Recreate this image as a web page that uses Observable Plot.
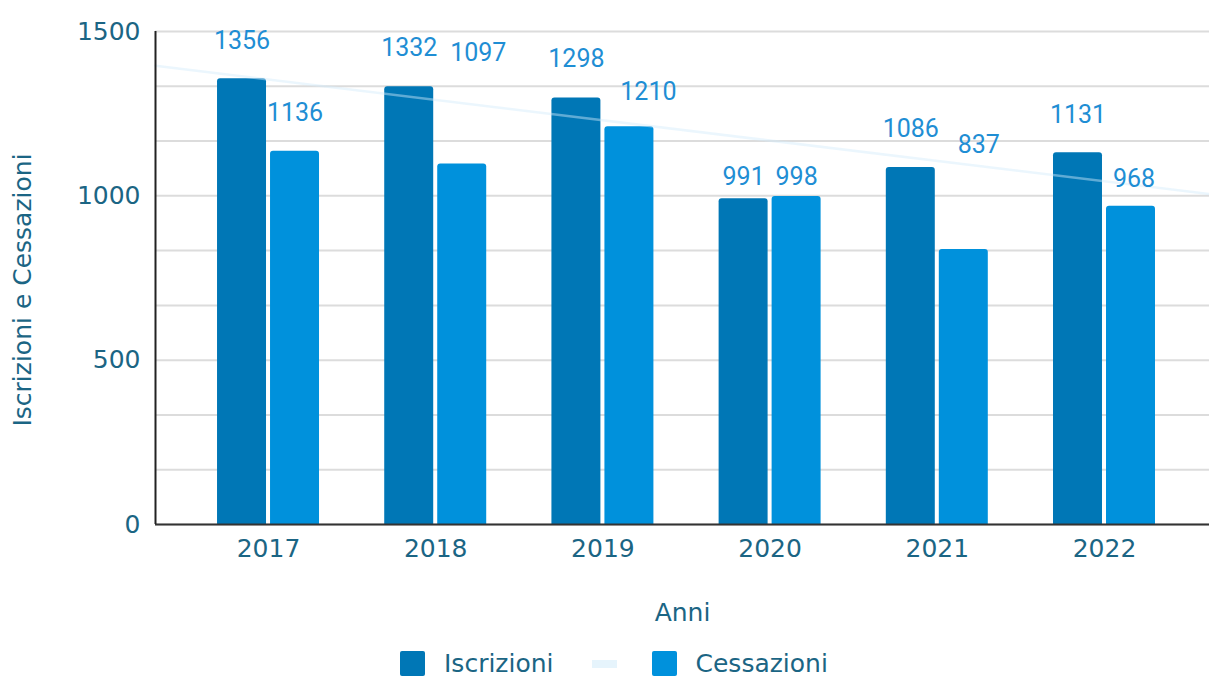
<!DOCTYPE html>
<html>
<head>
<meta charset="utf-8">
<script src="https://cdn.jsdelivr.net/npm/d3@7"></script>
<script src="https://cdn.jsdelivr.net/npm/@observablehq/plot@0.6"></script>
<style>
  html, body { margin: 0; padding: 0; background: #fff; }
  #wrap { position: relative; width: 1209px; height: 677px; overflow: hidden; }
  #legend { position: absolute; left: 400px; top: 651px; display: flex; align-items: center;
            font-family: "DejaVu Sans", sans-serif; font-size: 25px; line-height: 25px; color: #1b6584; white-space: nowrap; }
  .sw { width: 25px; height: 25px; border-radius: 2px; display: inline-block; }
  .ln { width: 25px; height: 8px; background: #e6f4fc; display: inline-block; }
</style>
</head>
<body>
<div id="wrap">
  <div id="chart"></div>
  <div id="legend">
    <span class="sw" style="background:#0077b6"></span>
    <span style="margin-left:19px">Iscrizioni</span>
    <span class="ln" style="margin-left:38px"></span>
    <span class="sw" style="background:#0091dc;margin-left:35px"></span>
    <span style="margin-left:19px">Cessazioni</span>
  </div>
</div>
<script>
// ---- data ----
const years = [2017, 2018, 2019, 2020, 2021, 2022];
const iscrizioni = [1356, 1332, 1298, 991, 1086, 1131];
const cessazioni = [1136, 1097, 1210, 998, 837, 968];
const yTickValues = [0, 500, 1000, 1500];
const seriesNames = ["Iscrizioni", "Cessazioni"];

// ---- layout (label nudges in pixels, relative to bar top) ----
const labelDxIscr = [0, 0, 0, 0, 0, 0];
const labelDyIscr = [-38, -39, -39, -22, -39, -38];
const labelDxCess = [0, 16, 19, 0, 15, 3];
const labelDyCess = [-38, -111, -35, -19, -104, -27];

const colors = { Iscrizioni: "#0077b6", Cessazioni: "#0091dc" };
const xDomain = [2016.324, 2022.628];
const barOff = [0.012, 0.305];

const rows = [];
years.forEach((y, i) => {
  rows.push({ year: y, series: "Iscrizioni", value: iscrizioni[i], dx: labelDxIscr[i], dy: labelDyIscr[i], x1: y - barOff[1], x2: y - barOff[0] });
  rows.push({ year: y, series: "Cessazioni", value: cessazioni[i], dx: labelDxCess[i], dy: labelDyCess[i], x1: y + barOff[0], x2: y + barOff[1] });
});

// linear trend of Iscrizioni across the full frame
const mx = d3.mean(years), my = d3.mean(iscrizioni);
const slope = d3.sum(years, (x, i) => (x - mx) * (iscrizioni[i] - my)) / d3.sum(years, x => (x - mx) ** 2);
const trend = xDomain.map(x => ({ x, y: my + slope * (x - mx) }));

const grid = d3.range(0, 10).map(k => k * 1500 / 9);

const labelMarks = rows.map(d => Plot.text([d], {
  x: r => (r.x1 + r.x2) / 2, y: "value", text: r => String(r.value),
  dx: d.dx, dy: d.dy, fill: "#1f8ed4", fontSize: 25, fontFamily: "Roboto",
  lineAnchor: "middle", textAnchor: "middle"
}));

const chart = Plot.plot({
  width: 1209,
  height: 645,
  marginLeft: 155,
  marginRight: 0,
  marginTop: 31,
  marginBottom: 121,
  style: { fontFamily: "DejaVu Sans", fontSize: "25px", color: "#1b6584", background: "#fff", overflow: "visible" },
  x: { type: "linear", domain: xDomain, ticks: years, tickFormat: d => String(d), tickSize: 0, tickPadding: 15, label: null },
  y: { domain: [0, 1500], ticks: yTickValues, tickFormat: d => String(d), tickSize: 0, tickPadding: 15, label: null },
  marks: [
    Plot.ruleY(grid, { stroke: "#dcdcdc", strokeWidth: 2 }),
    Plot.rect(rows, { x1: "x1", x2: "x2", y1: 0, y2: "value", fill: d => colors[d.series], rx: 3, insetBottom: -8, clip: true }),
    Plot.line(trend, { x: "x", y: "y", stroke: "#d2ebfa", strokeOpacity: 0.45, strokeWidth: 2.5 }),
    Plot.ruleY([0], { stroke: "#333", strokeWidth: 2 }),
    Plot.ruleX([xDomain[0]], { stroke: "#222", strokeWidth: 2 }),
    ...labelMarks,
    Plot.text(["Anni"], { frameAnchor: "bottom", dy: 88, fill: "#1b6584", fontSize: 25, fontFamily: "DejaVu Sans", lineAnchor: "middle" }),
    Plot.text(["Iscrizioni e Cessazioni"], { frameAnchor: "left", dx: -133, dy: 12, rotate: -90, fill: "#1b6584", fontSize: 25, fontFamily: "DejaVu Sans", lineAnchor: "middle", textAnchor: "middle" })
  ]
});
document.getElementById("chart").appendChild(chart);
</script>
</body>
</html>
